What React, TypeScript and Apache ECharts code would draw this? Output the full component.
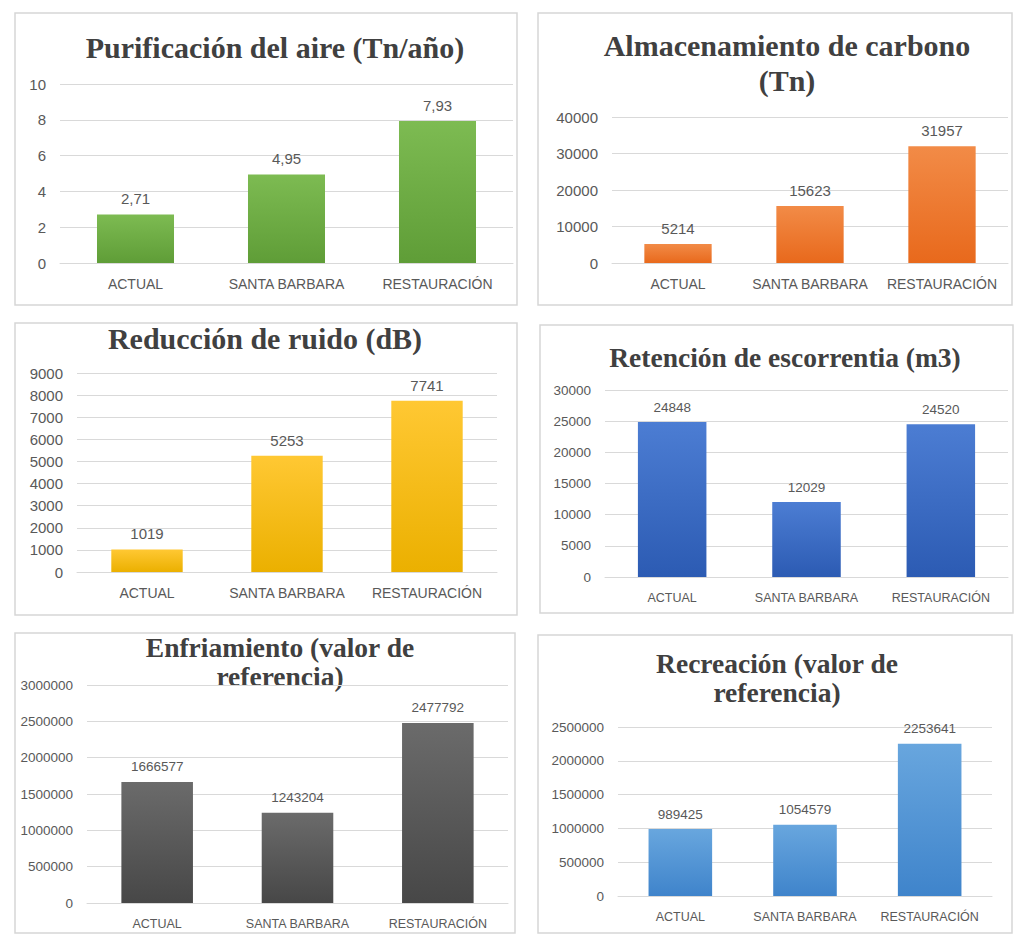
import React, { useEffect, useRef } from "react";
import * as echarts from "echarts";

const categories = ["ACTUAL", "SANTA BARBARA", "RESTAURACIÓN"];

const purificacion = [2.71, 4.95, 7.93];
const carbono = [5214, 15623, 31957];
const ruido = [1019, 5253, 7741];
const escorrentia = [24848, 12029, 24520];
const enfriamiento = [1666577, 1243204, 2477792];
const recreacion = [989425, 1054579, 2253641];

const titles = [
  ["Purificación del aire (Tn/año)"],
  ["Almacenamiento de carbono", "(Tn)"],
  ["Reducción de ruido (dB)"],
  ["Retención de escorrentia (m3)"],
  ["Enfriamiento (valor de", "referencia)"],
  ["Recreación (valor de", "referencia)"],
];

const axisMax = [10, 40000, 9000, 30000, 3000000, 2500000];
const axisInterval = [2, 10000, 1000, 5000, 500000, 500000];
const seriesData = [purificacion, carbono, ruido, escorrentia, enfriamiento, recreacion];
const decimalComma = [true, false, false, false, false, false];

// colours: [top, bottom]
const colors = [
  ["#7dbb52", "#5f9d37"],
  ["#f28b47", "#e8691c"],
  ["#ffc833", "#ebb000"],
  ["#4c7dd3", "#2c5bb3"],
  ["#6b6b6b", "#474747"],
  ["#68a6de", "#3f84cb"],
];

// layout (pixels)
const layout = [
  { box: [15, 13, 502, 292], grid: [60, 84, 453, 179], title: [275, 47], lineGap: 0, tSize: 30, cSize: 14, nSize: 15 },
  { box: [538, 13, 474, 292], grid: [612, 117, 396, 146], title: [787, 45], lineGap: 35, tSize: 30, cSize: 14, nSize: 15 },
  { box: [15, 323, 502, 292], grid: [77, 373, 420, 199], title: [265, 338], lineGap: 0, tSize: 30, cSize: 14, nSize: 15 },
  { box: [540, 325, 473, 288], grid: [605, 390, 403, 187], title: [785, 357], lineGap: 0, tSize: 27.5, cSize: 12.5, nSize: 13.5 },
  { box: [15, 633, 500, 300], grid: [87, 685, 421, 218], title: [280, 647], lineGap: 29, tSize: 27.5, cSize: 12.5, nSize: 13.5 },
  { box: [538, 635, 474, 298], grid: [618, 727, 374, 169], title: [777, 663], lineGap: 29, tSize: 27.5, cSize: 12.5, nSize: 13.5 },
];

const TEXT = "#595959";
const TITLE = "#404040";
const GRIDC = "#d9d9d9";
const SANS = "'Liberation Sans', Arial, sans-serif";
const SERIF = "'Liberation Serif', 'Times New Roman', serif";

export default function App() {
  const ref = useRef<HTMLDivElement>(null);
  useEffect(() => {
    document.body.style.margin = "0";
    if (!ref.current) return;
    const chart = echarts.init(ref.current, undefined, { renderer: "svg" });

    const grids: any[] = [];
    const xAxes: any[] = [];
    const yAxes: any[] = [];
    const series: any[] = [];
    const graphics: any[] = [];

    layout.forEach((L, i) => {
      const [gx, gy, gw, gh] = L.grid;
      grids.push({ left: gx, top: gy, width: gw, height: gh, containLabel: false });
      xAxes.push({
        type: "category",
        gridIndex: i,
        data: categories,
        axisLine: { show: true, lineStyle: { color: GRIDC, width: 1 } },
        axisTick: { show: false },
        axisLabel: { color: TEXT, fontFamily: SANS, fontSize: L.cSize, margin: 14, interval: 0 },
      });
      yAxes.push({
        type: "value",
        gridIndex: i,
        min: 0,
        max: axisMax[i],
        interval: axisInterval[i],
        axisLine: { show: false },
        axisTick: { show: false },
        splitLine: { show: true, lineStyle: { color: GRIDC, width: 1 } },
        axisLabel: {
          color: TEXT,
          fontFamily: SANS,
          fontSize: L.nSize,
          margin: 14,
          formatter: (v: number) => String(v),
        },
      });
      const comma = decimalComma[i];
      series.push({
        type: "bar",
        xAxisIndex: i,
        yAxisIndex: i,
        data: seriesData[i],
        barWidth: "51%",
        itemStyle: {
          color: new echarts.graphic.LinearGradient(0, 0, 0, 1, [
            { offset: 0, color: colors[i][0] },
            { offset: 1, color: colors[i][1] },
          ]),
        },
        label: {
          show: true,
          position: "top",
          distance: 8,
          color: TEXT,
          fontFamily: SANS,
          fontSize: L.nSize,
          formatter: (p: any) => (comma ? String(p.value).replace(".", ",") : String(p.value)),
        },
      });
      const [bx, by, bw, bh] = L.box;
      graphics.push({
        type: "rect",
        shape: { x: bx, y: by, width: bw, height: bh },
        style: { fill: "none", stroke: "#d6d6d6", lineWidth: 1.5 },
        silent: true,
      });
      titles[i].forEach((t, k) => {
        graphics.push({
          type: "text",
          x: L.title[0],
          y: L.title[1] + k * L.lineGap,
          style: {
            text: t,
            font: `bold ${L.tSize}px ${SERIF}`,
            fill: TITLE,
            textAlign: "center",
            textVerticalAlign: "middle",
            align: "center",
            verticalAlign: "middle",
          },
          silent: true,
        });
      });
    });

    chart.setOption({
      animation: false,
      backgroundColor: "#ffffff",
      grid: grids,
      xAxis: xAxes,
      yAxis: yAxes,
      series,
      graphic: graphics,
    });

    return () => chart.dispose();
  }, []);
  return <div ref={ref} style={{ width: 1030, height: 947 }} />;
}
